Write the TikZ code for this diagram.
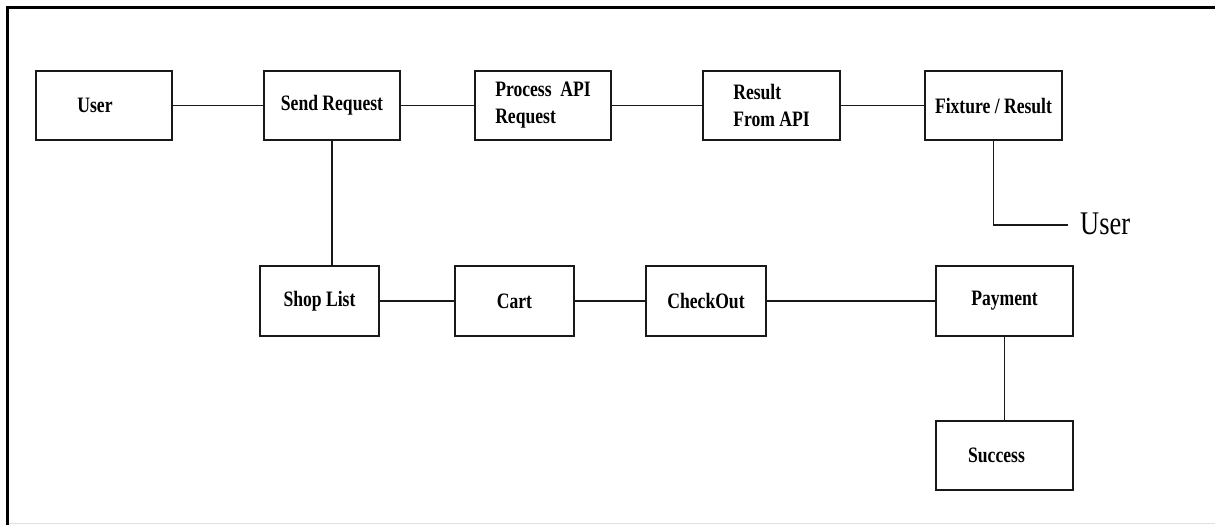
\documentclass[tikz,border=0pt]{standalone}
\usepackage{fontspec}
\setmainfont[FakeStretch=0.8]{Liberation Serif}
\begin{document}
\begin{tikzpicture}[x=1pt,y=-1pt,
  box/.style={draw=black!90,line width=2pt,rectangle,inner sep=0pt,
    minimum width=136pt,minimum height=69pt,
    font=\fontsize{22}{26}\selectfont\bfseries,align=left},
  link/.style={draw=black!90,line width=1.9pt},
  frame/.style={line width=3pt,black}]
\useasboundingbox (0,0) rectangle (1215,525);
% frame
\draw[frame] (1215,7.5) -- (7.3,7.5) -- (7.3,525);
\draw[black!12,line width=1pt] (9,523) -- (1215,523);
% top row
\node[box] (user) at (104,105.5) {User\hspace{18pt}};
\node[box] (send) at (332,105.5) {Send Request};
\node[box] (proc) at (543,105.5) {Process\ \ API\\[1pt]Request};
\node[box,minimum width=137pt] (res) at (771.5,105.5) {Result\\[1pt]From API};
\node[box,minimum width=137pt] (fix) at (993.5,105.5) {Fixture / Result};
% bottom row
\node[box,minimum width=119pt,minimum height=70pt] (shop) at (319.5,301) {Shop List};
\node[box,minimum width=119pt,minimum height=70pt] (cart) at (514.5,301) {Cart};
\node[box,minimum width=120pt,minimum height=70pt] (check) at (706,301) {CheckOut};
\node[box,minimum width=137pt,minimum height=70pt] (pay) at (1004.5,301) {Payment};
\node[box,minimum width=137pt] (succ) at (1004.5,455.5) {Success\hspace{16pt}};
% user label
\coordinate (uend) at (1068,225);
\node[anchor=base west,inner sep=0pt,font=\fontsize{33}{36}\selectfont] (ulabel) at (1080,234) {User};
% connectors
\draw[link] (user.east) -- (send.west);
\draw[link] (send.east) -- (proc.west);
\draw[link] (proc.east) -- (res.west);
\draw[link] (res.east) -- (fix.west);
\draw[link] (send.south) -- (send.south |- shop.north);
\draw[link] (fix.south) -- (fix.south |- uend) -- (uend);
\draw[link] (shop.east) -- (cart.west);
\draw[link] (cart.east) -- (check.west);
\draw[link] (check.east) -- (pay.west);
\draw[link] (pay.south) -- (succ.north);
\end{tikzpicture}
\end{document}
